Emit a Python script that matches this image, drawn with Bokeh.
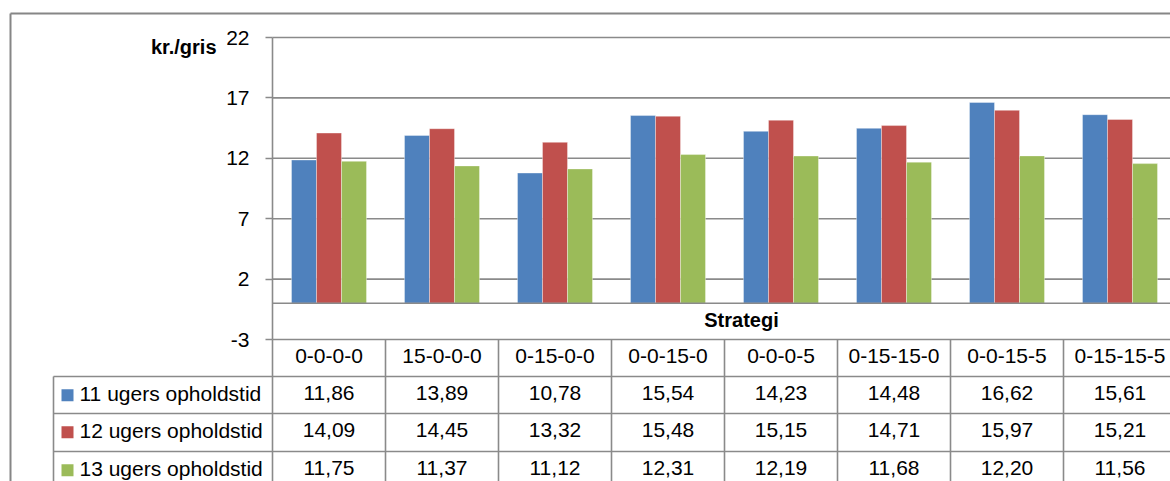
from bokeh.plotting import figure
from bokeh.models import Range1d, LinearAxis, FixedTicker, PrintfTickFormatter
from bokeh.core.properties import value
from bokeh.embed import file_html
from bokeh.resources import INLINE

# ---------------- data ----------------
categories = ["0-0-0-0", "15-0-0-0", "0-15-0-0", "0-0-15-0", "0-0-0-5",
              "0-15-15-0", "0-0-15-5", "0-15-15-5"]
series_names = ["11 ugers opholdstid", "12 ugers opholdstid", "13 ugers opholdstid"]
s11 = [11.86, 13.89, 10.78, 15.54, 14.23, 14.48, 16.62, 15.61]
s12 = [14.09, 14.45, 13.32, 15.48, 15.15, 14.71, 15.97, 15.21]
s13 = [11.75, 11.37, 11.12, 12.31, 12.19, 11.68, 12.20, 11.56]
y_ticks = [-3, 2, 7, 12, 17, 22]
y_label = "kr./gris"
x_label = "Strategi"

# ---------------- style / layout ----------------
colors = ["#4F81BD", "#C0504D", "#9BBB59"]
grid_c = "#8A8A8A"
FONT = "Liberation Sans"
FS = "21px"
FSB = "20px"
W, H = 1170, 481
col_px = 113.0          # width of a category column in pixels
plot_left = 272.0       # x pixel of the value axis
ytop_px, ybot_px = 37.0, 339.0   # pixel rows of top and bottom ticks
row_lines = [376.0, 413.0, 451.0]
row_h = 37.5
legend_left = 53.0
text_dy = -2.0

ppu = (ybot_px - ytop_px) / (y_ticks[-1] - y_ticks[0])
x_start = -0.5 - plot_left / col_px
x_end = x_start + W / col_px
y_end = y_ticks[-1] + ytop_px / ppu
y_start = y_ticks[-1] - (H - ytop_px) / ppu

p = figure(width=W, height=H, x_range=Range1d(x_start, x_end),
           y_range=Range1d(y_start, y_end), x_axis_type=None, y_axis_type=None,
           toolbar_location=None, output_backend="svg",
           min_border=0, min_border_left=0, min_border_right=0,
           min_border_top=0, min_border_bottom=0)
p.outline_line_color = None
p.background_fill_color = "white"
p.border_fill_color = "white"
p.extra_x_ranges = {"px": Range1d(0, W)}
p.extra_y_ranges = {"px": Range1d(H, 0)}

n = len(categories)

# outer chart border
p.segment(x0=[10, 10], y0=[13, 13], x1=[W + 5, 10], y1=[13, H + 5],
          x_range_name="px", y_range_name="px", line_color="#868686", line_width=2)

# horizontal gridlines at ticks
p.segment(x0=[-0.5] * len(y_ticks), y0=y_ticks, x1=[x_end + 1] * len(y_ticks), y1=y_ticks,
          line_color=grid_c, line_width=1.6)

# bars
bw = 25.0 / col_px
for j, (vals, c) in enumerate(zip([s11, s12, s13], colors)):
    xs = [i + (j - 1) * bw for i in range(n)]
    p.vbar(x=xs, top=vals, bottom=0, width=bw, fill_color=c,
           line_color="white", line_alpha=0.35, line_width=1)

# category axis line at 0
p.segment(x0=[-0.5], y0=[0], x1=[x_end + 1], y1=[0], line_color=grid_c, line_width=1.6)
# value axis line
p.segment(x0=[-0.5], y0=[y_ticks[0]], x1=[-0.5], y1=[y_ticks[-1]], line_color=grid_c, line_width=1.6)

# value axis (ticks + labels)
ax = LinearAxis(fixed_location=-0.5, ticker=FixedTicker(ticks=y_ticks, minor_ticks=[]),
                formatter=PrintfTickFormatter(format="%d"),
                axis_line_color=None, major_tick_in=0, major_tick_out=7,
                major_tick_line_color=grid_c, major_tick_line_width=1.6,
                minor_tick_line_color=None, major_label_text_font=FONT,
                major_label_text_font_size=FS, major_label_text_color="black",
                major_label_standoff=16)
p.add_layout(ax, "left")

# data table grid
p.segment(x0=[k - 0.5 for k in range(n + 1)], y0=[ybot_px] * (n + 1),
          x1=[k - 0.5 for k in range(n + 1)], y1=[H + 5] * (n + 1),
          y_range_name="px", line_color=grid_c, line_width=1.6)
p.segment(x0=[legend_left] * len(row_lines), y0=row_lines,
          x1=[W + 5] * len(row_lines), y1=row_lines,
          x_range_name="px", y_range_name="px", line_color=grid_c, line_width=1.6)
p.segment(x0=[legend_left], y0=[row_lines[0]], x1=[legend_left], y1=[H + 5],
          x_range_name="px", y_range_name="px", line_color=grid_c, line_width=1.6)

# header row: category names
p.text(x=list(range(n)), y=[(ybot_px + row_lines[0]) / 2 + text_dy] * n, text=categories,
       y_range_name="px", text_align="center", text_baseline="middle",
       text_font=value(FONT), text_font_size=FS, text_color="black")

# series rows
row_centers = [r + row_h / 2 for r in row_lines]
text_rows = [c + text_dy for c in row_centers]
for j, vals in enumerate([s11, s12, s13]):
    txt = [f"{v:.2f}".replace(".", ",") for v in vals]
    p.text(x=list(range(n)), y=[text_rows[j]] * n, text=txt,
           y_range_name="px", text_align="center", text_baseline="middle",
           text_font=value(FONT), text_font_size=FS, text_color="black")

# legend keys in table
p.scatter(x=[67] * 3, y=row_centers, marker="square", size=12, fill_color=colors,
          line_color=None, x_range_name="px", y_range_name="px")
p.text(x=[79] * 3, y=text_rows, text=series_names, x_range_name="px", y_range_name="px",
       text_align="left", text_baseline="middle", text_font=value(FONT),
       text_font_size=FS, text_color="black")

# axis titles
p.text(x=[216], y=[46], text=[y_label], x_range_name="px", y_range_name="px",
       text_align="right", text_baseline="middle", text_font=value(FONT),
       text_font_size=FSB, text_font_style="bold", text_color="black")
p.text(x=[741], y=[319], text=[x_label], x_range_name="px", y_range_name="px",
       text_align="center", text_baseline="middle", text_font=value(FONT),
       text_font_size=FSB, text_font_style="bold", text_color="black")

open("out.html", "w").write(file_html(p, INLINE))
